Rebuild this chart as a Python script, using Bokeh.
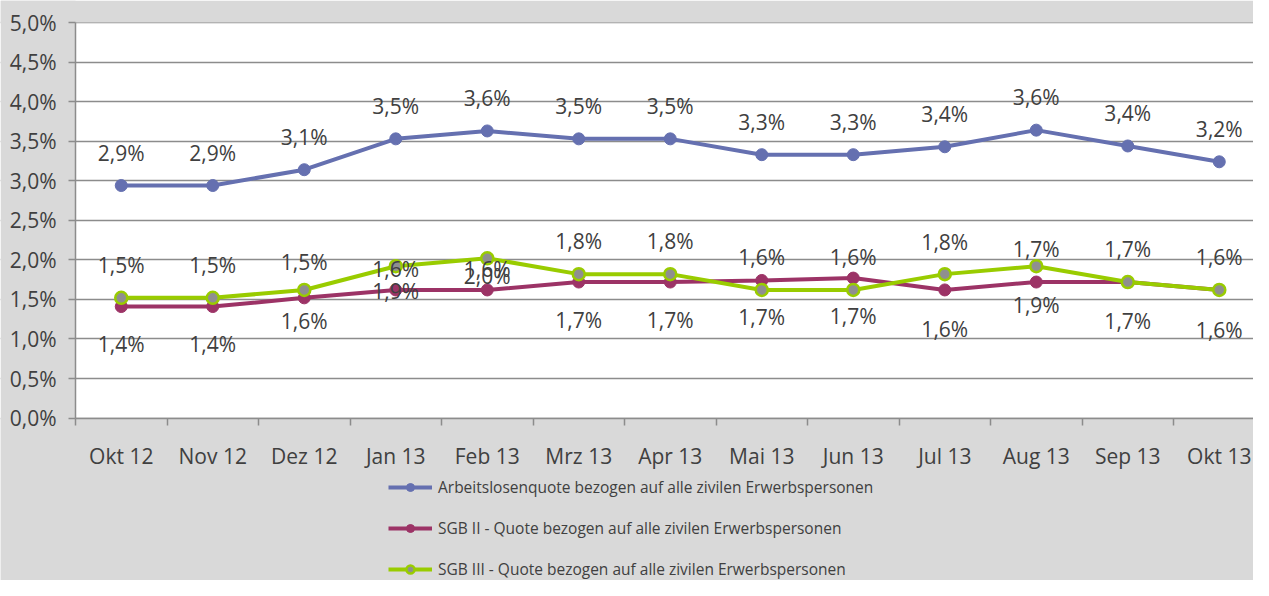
from bokeh.plotting import figure
from bokeh.models import (FixedTicker, Legend, LegendItem, ColumnDataSource, Range1d,
                          BoxAnnotation)
from bokeh.core.properties import value
from bokeh.embed import file_html
from bokeh.resources import INLINE

months = ["Okt 12", "Nov 12", "Dez 12", "Jan 13", "Feb 13", "Mrz 13", "Apr 13",
          "Mai 13", "Jun 13", "Jul 13", "Aug 13", "Sep 13", "Okt 13"]
alq = [2.94, 2.94, 3.14, 3.53, 3.63, 3.53, 3.53, 3.33, 3.33, 3.43, 3.64, 3.44, 3.24]
sgb2 = [1.41, 1.41, 1.52, 1.62, 1.62, 1.72, 1.72, 1.74, 1.77, 1.62, 1.72, 1.72, 1.62]
sgb3 = [1.52, 1.52, 1.62, 1.92, 2.02, 1.82, 1.82, 1.62, 1.62, 1.82, 1.92, 1.72, 1.62]

alq_labels = ["2,9%", "2,9%", "3,1%", "3,5%", "3,6%", "3,5%", "3,5%",
              "3,3%", "3,3%", "3,4%", "3,6%", "3,4%", "3,2%"]
upper_labels = ["1,5%", "1,5%", "1,5%", "1,6%", "1,6%", "1,8%", "1,8%",
                "1,6%", "1,6%", "1,8%", "1,7%", "1,7%", "1,6%"]
lower_labels = ["1,4%", "1,4%", "1,6%", "1,9%", "2,0%", "1,7%", "1,7%",
                "1,7%", "1,7%", "1,6%", "1,9%", "1,7%", "1,6%"]

y_ticks = [0, 0.5, 1.0, 1.5, 2.0, 2.5, 3.0, 3.5, 4.0, 4.5, 5.0]
y_tick_labels = ["0,0%", "0,5%", "1,0%", "1,5%", "2,0%", "2,5%", "3,0%",
                 "3,5%", "4,0%", "4,5%", "5,0%"]

series_names = ["Arbeitslosenquote bezogen auf alle zivilen Erwerbspersonen",
                "SGB II - Quote bezogen auf alle zivilen Erwerbspersonen",
                "SGB III - Quote bezogen auf alle zivilen Erwerbspersonen"]

# label placement (pixel offsets, style only)
alq_off = [-33] * 13
upper_off = [-33, -33, -28, 3, 11, -33, -33, -33, -33, -32, -17, -33, -33]
lower_off = [37, 37, 23, 1, -14, 38, 38, 37, 38, 39, 23, 39, 40]

FONT = "Open Sans"
FS = "21px"
TXT = "#404040"
BLUE = "#6570b0"
MAG = "#9c3366"
GREEN = "#99cc00"
GRID = "#8c8c8c"
BG = "#d9d9d9"

xs = list(range(len(months)))
n = len(months)
x_lo, x_hi = -0.5, n - 0.5
y_lo, y_hi = y_ticks[0], y_ticks[-1]

# the frame covers the whole canvas; grey boxes form the margins around the
# white plot area (left of the first category, below 0 and above 5 %)
p = figure(width=1253, height=580, output_backend="svg", toolbar_location=None,
           x_range=Range1d(-1.3197, 12.374), y_range=Range1d(-2.053, 5.279),
           min_border_left=0, min_border_right=0, min_border_top=0,
           min_border_bottom=0)
p.background_fill_color = "white"
p.border_fill_color = BG
p.outline_line_color = None

p.xgrid.grid_line_color = None
p.ygrid.ticker = FixedTicker(ticks=y_ticks)
p.ygrid.grid_line_color = GRID
p.ygrid.grid_line_width = 1.5

for box in [BoxAnnotation(right=x_lo), BoxAnnotation(top=y_lo),
            BoxAnnotation(bottom=y_hi)]:
    box.fill_color = BG
    box.fill_alpha = 1
    box.line_color = None
    box.level = "underlay"
    p.add_layout(box)

# axes
p.xaxis.fixed_location = y_lo
p.xaxis.bounds = (x_lo, x_hi)
p.xaxis.ticker = FixedTicker(ticks=xs, minor_ticks=[i - 0.5 for i in range(n + 1)])
p.xaxis.major_label_overrides = {i: m for i, m in enumerate(months)}
p.xaxis.major_tick_line_color = None
p.xaxis.major_tick_out = 0
p.xaxis.major_tick_in = 0
p.xaxis.minor_tick_line_color = GRID
p.xaxis.minor_tick_line_width = 1.5
p.xaxis.minor_tick_out = 7
p.xaxis.minor_tick_in = 0
p.xaxis.major_label_standoff = 17
p.xaxis.axis_line_color = GRID
p.xaxis.axis_line_width = 1.5
p.xaxis.major_label_text_font = FONT
p.xaxis.major_label_text_font_size = FS
p.xaxis.major_label_text_color = TXT

p.yaxis.fixed_location = x_lo
p.yaxis.bounds = (y_lo, y_hi)
p.yaxis.ticker = FixedTicker(ticks=y_ticks, minor_ticks=[])
p.yaxis.major_label_overrides = {t: l for t, l in zip(y_ticks, y_tick_labels)}
p.yaxis.major_tick_line_color = GRID
p.yaxis.major_tick_line_width = 1.5
p.yaxis.major_tick_out = 7
p.yaxis.major_tick_in = 0
p.yaxis.major_label_standoff = 12
p.yaxis.axis_line_color = GRID
p.yaxis.axis_line_width = 1.5
p.yaxis.major_label_text_font = FONT
p.yaxis.major_label_text_font_size = FS
p.yaxis.major_label_text_color = TXT

src = ColumnDataSource(dict(x=xs, alq=alq, sgb2=sgb2, sgb3=sgb3,
                            alq_l=alq_labels, up_l=upper_labels, lo_l=lower_labels,
                            alq_o=alq_off, up_o=upper_off, lo_o=lower_off))

l1 = p.line("x", "alq", source=src, line_color=BLUE, line_width=4)
s1 = p.scatter("x", "alq", source=src, size=12, fill_color=BLUE, line_color=BLUE)
l2 = p.line("x", "sgb2", source=src, line_color=MAG, line_width=4)
s2 = p.scatter("x", "sgb2", source=src, size=12, fill_color=MAG, line_color=MAG)
l3 = p.line("x", "sgb3", source=src, line_color=GREEN, line_width=4)
s3 = p.scatter("x", "sgb3", source=src, size=12, fill_color="#8f8f8f",
               line_color=GREEN, line_width=2.5)

for ycol, tcol, ocol in [("alq", "alq_l", "alq_o"), ("sgb3", "up_l", "up_o"),
                         ("sgb2", "lo_l", "lo_o")]:
    p.text("x", ycol, text=tcol, y_offset=ocol, source=src,
           text_font=value(FONT), text_font_size=FS, text_color=TXT,
           text_align="center", text_baseline="middle")

legend = Legend(items=[LegendItem(label=series_names[0], renderers=[l1, s1]),
                       LegendItem(label=series_names[1], renderers=[l2, s2]),
                       LegendItem(label=series_names[2], renderers=[l3, s3])],
                location=(388, 0), orientation="vertical")
legend.padding = 0
legend.margin = 0
legend.spacing = 19
legend.glyph_width = 44
legend.glyph_height = 20
legend.label_height = 20
legend.label_standoff = 6
legend.border_line_color = None
legend.background_fill_alpha = 0
legend.label_text_font = FONT
legend.label_text_font_size = "15.5px"
legend.label_text_color = TXT
p.add_layout(legend)

open("out.html", "w").write(file_html(p, INLINE))
